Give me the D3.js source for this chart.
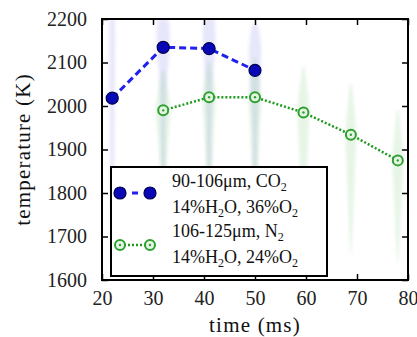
<!DOCTYPE html>
<html>
<head>
<meta charset="utf-8">
<script src="https://cdn.jsdelivr.net/npm/d3@7"></script>
</head>
<body style="margin:0; background:#fff">
<script>
// mean temperatures
const blueTime = [22, 32, 41, 50];
const blueTemp = [2018, 2135, 2132, 2082];
const greenTime = [32, 41, 50, 59.5, 68.8, 78];
const greenTemp = [1990, 2020, 2020, 1985, 1934, 1875];

// distribution shapes behind the means: [temperature, half width in ms]
const blueViolins = [
    [[1640, 0.1], [1800, 0.35], [2000, 0.45], [2120, 0.6], [2200, 0.55]],
    [[1680, 0.1], [1850, 0.4], [2000, 0.5], [2080, 0.8], [2130, 1.4], [2180, 1.3], [2200, 1.0]],
    [[1700, 0.1], [1850, 0.4], [2050, 0.6], [2100, 1.0], [2160, 1.3], [2200, 1.1]],
    [[1700, 0.1], [1850, 0.4], [2000, 0.6], [2060, 1.0], [2120, 1.3], [2170, 1.0], [2190, 0.3]]
];
const greenViolins = [
    [[1680, 0.1], [1800, 0.5], [1930, 0.9], [1990, 1.7], [2030, 1.0], [2080, 0.3]],
    [[1690, 0.1], [1820, 0.5], [1960, 0.9], [2020, 1.5], [2060, 0.9], [2100, 0.3]],
    [[1690, 0.1], [1820, 0.5], [1960, 0.9], [2020, 1.4], [2060, 0.9], [2110, 0.3]],
    [[1660, 0.1], [1800, 0.6], [1930, 0.9], [1985, 1.3], [2040, 0.8], [2090, 0.2]],
    [[1660, 0.1], [1780, 0.6], [1890, 0.9], [1935, 1.2], [1990, 0.7], [2050, 0.2]],
    [[1640, 0.1], [1740, 0.6], [1840, 0.9], [1875, 1.2], [1930, 0.7], [1990, 0.2]]
];

const xTicks = [20, 30, 40, 50, 60, 70, 80];
const yTicks = [1600, 1700, 1800, 1900, 2000, 2100, 2200];

const FONT = "Liberation Serif";

const W = 417, H = 337;
const margin = {top: 19, right: 9, bottom: 57, left: 102};
const width = W - margin.left - margin.right;
const height = H - margin.top - margin.bottom;

const svg = d3.select("body").append("svg")
    .attr("width", W)
    .attr("height", H)
    .attr("font-family", FONT);

const defs = svg.append("defs");
defs.append("filter").attr("id", "soft")
    .attr("x", "-50%").attr("y", "-10%").attr("width", "200%").attr("height", "120%")
    .append("feGaussianBlur").attr("stdDeviation", 1.6);

const g = svg.append("g")
    .attr("transform", "translate(" + margin.left + "," + margin.top + ")");

const x = d3.scaleLinear().domain([20, 80]).range([0, width]);
const y = d3.scaleLinear().domain([1600, 2200]).range([height, 0]);

defs.append("clipPath").attr("id", "plot-clip")
    .append("rect").attr("width", width).attr("height", height);

const plot = g.append("g").attr("clip-path", "url(#plot-clip)");

// violins
function drawViolins(times, shapes, color) {
    shapes.forEach((shape, i) => {
        const t = times[i];
        const area = d3.area()
            .curve(d3.curveBasis)
            .y(d => y(d[0]))
            .x0(d => x(t - d[1]))
            .x1(d => x(t + d[1]));
        plot.append("path")
            .datum(shape)
            .attr("d", area)
            .attr("fill", color)
            .attr("fill-opacity", 0.13)
            .attr("filter", "url(#soft)");
    });
}
drawViolins(blueTime, blueViolins, "#3a3ae0");
drawViolins(greenTime, greenViolins, "#40b040");

// lines
const blueData = blueTime.map((t, i) => ({t: t, v: blueTemp[i]}));
const greenData = greenTime.map((t, i) => ({t: t, v: greenTemp[i]}));
const line = d3.line().x(d => x(d.t)).y(d => y(d.v));

g.append("path")
    .datum(greenData)
    .attr("d", line)
    .attr("fill", "none")
    .attr("stroke", "#1e9a1e")
    .attr("stroke-width", 2.5)
    .attr("stroke-dasharray", "2,2");

g.append("path")
    .datum(blueData)
    .attr("d", line)
    .attr("fill", "none")
    .attr("stroke", "#2020f0")
    .attr("stroke-width", 3)
    .attr("stroke-dasharray", "7,4");

function blueMarker(sel) {
    sel.attr("r", 6)
        .attr("fill", "#0808b8")
        .attr("stroke", "#000050")
        .attr("stroke-width", 1.2);
}
function greenMarker(sel, cx, cy) {
    sel.append("circle").attr("cx", cx).attr("cy", cy).attr("r", 5)
        .attr("fill", "#e6f4e6").attr("stroke", "#2ea02e").attr("stroke-width", 2);
    sel.append("circle").attr("cx", cx).attr("cy", cy).attr("r", 1.2)
        .attr("fill", "#2ea02e");
}

g.selectAll(".bdot").data(blueData).join("circle")
    .attr("class", "bdot")
    .attr("cx", d => x(d.t))
    .attr("cy", d => y(d.v))
    .call(blueMarker);

greenData.forEach(d => greenMarker(g.append("g"), x(d.t), y(d.v)));

// axes with inward ticks
const fmt = d3.format("d");
g.append("g").attr("class", "axis")
    .attr("transform", "translate(0," + height + ")")
    .call(d3.axisBottom(x).tickValues(xTicks).tickFormat(fmt).tickSize(-6).tickPadding(11))
    .call(a => a.select(".domain").remove());
g.append("g").attr("class", "axis")
    .call(d3.axisTop(x).tickValues(xTicks).tickSize(-6).tickFormat(""))
    .call(a => a.select(".domain").remove());
g.append("g").attr("class", "axis")
    .call(d3.axisLeft(y).tickValues(yTicks).tickFormat(fmt).tickSize(-6).tickPadding(15))
    .call(a => a.select(".domain").remove());
g.append("g").attr("class", "axis")
    .attr("transform", "translate(" + width + ",0)")
    .call(d3.axisRight(y).tickValues(yTicks).tickSize(-6).tickFormat(""))
    .call(a => a.select(".domain").remove());
g.selectAll(".axis line").attr("stroke-width", 1.5);
g.selectAll(".axis").attr("font-family", FONT).attr("font-size", 20);
g.selectAll(".axis text")
    .attr("font-family", FONT)
    .attr("font-size", 20)
    .attr("fill", "#222");

g.append("rect")
    .attr("width", width)
    .attr("height", height)
    .attr("fill", "none")
    .attr("stroke", "#000")
    .attr("stroke-width", 2);

// axis titles
svg.append("text")
    .attr("x", margin.left + width / 2)
    .attr("y", 332)
    .attr("text-anchor", "middle")
    .attr("font-family", FONT)
    .attr("font-size", 21)
    .attr("letter-spacing", 1.2)
    .attr("fill", "#111")
    .text("time (ms)");

svg.append("text")
    .attr("transform", "translate(30," + (margin.top + height / 2) + ") rotate(-90)")
    .attr("text-anchor", "middle")
    .attr("font-family", FONT)
    .attr("font-size", 21)
    .attr("letter-spacing", 1.2)
    .attr("fill", "#111")
    .text("temperature (K)");

// legend
const leg = svg.append("g").attr("transform", "translate(111,167)");
leg.append("rect")
    .attr("width", 216)
    .attr("height", 109)
    .attr("fill", "#fff")
    .attr("stroke", "#000")
    .attr("stroke-width", 2);

leg.append("line").attr("x1", 9).attr("x2", 39).attr("y1", 26).attr("y2", 26)
    .attr("stroke", "#2020f0").attr("stroke-width", 3).attr("stroke-dasharray", "0,12,6,12");
leg.selectAll(".lb").data([9, 39]).join("circle")
    .attr("cx", d => d).attr("cy", 26).call(blueMarker);

leg.append("line").attr("x1", 9).attr("x2", 39).attr("y1", 78).attr("y2", 78)
    .attr("stroke", "#1e9a1e").attr("stroke-width", 2.5).attr("stroke-dasharray", "2,2");
[9, 39].forEach(cx => greenMarker(leg.append("g"), cx, 78));

function legText(yy, parts) {
    const t = leg.append("text").attr("x", 61).attr("y", yy)
        .attr("font-family", FONT)
        .attr("font-size", 18)
        .attr("fill", "#111");
    let sub = false;
    parts.forEach(p => {
        if (Array.isArray(p)) {
            t.append("tspan").attr("font-size", 12).attr("dy", 4).text(p[0]);
            sub = true;
        } else {
            t.append("tspan").attr("dy", sub ? -4 : null).text(p);
            sub = false;
        }
    });
}
legText(20, ["90-106\u03bcm, CO", ["2"]]);
legText(46, ["14%H", ["2"], "O, 36%O", ["2"]]);
legText(70, ["106-125\u03bcm, N", ["2"]]);
legText(96, ["14%H", ["2"], "O, 24%O", ["2"]]);
</script>
</body>
</html>
